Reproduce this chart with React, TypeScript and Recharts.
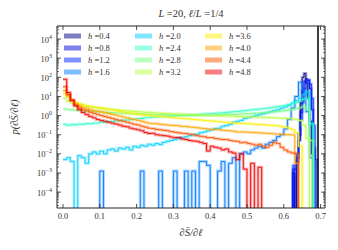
import React from 'react';
import { LineChart, Line, XAxis, YAxis, ReferenceLine } from 'recharts';

const W = 338;
const H = 250;
const FONT = '"Liberation Serif", "DejaVu Serif", serif';
const AXIS = '#222';
const TXT = '#333';

const H_LABELS = ['0.4', '0.8', '1.2', '1.6', '2.0', '2.4', '2.8', '3.2', '3.6', '4.0', '4.4', '4.8'];
const COLORS = ['#000080', '#0000de', '#0028ff', '#007aff', '#00cfff', '#30ffc7', '#74ff83', '#b8ff40', '#fbf000', '#ffa400', '#ff5400', '#f20000'];

const X_TICKS = [0, 0.1, 0.2, 0.3, 0.4, 0.5, 0.6, 0.7];
const Y_MAJOR = [1e-4, 1e-3, 1e-2, 1e-1, 1, 1e1, 1e2, 1e3, 1e4];
const Y_EXP = ['\u22124', '\u22123', '\u22122', '\u22121', '0', '1', '2', '3', '4'];
const X_DOMAIN = [-0.0163, 0.712];
const Y_DOMAIN = [1.48e-5, 4.8e4];
const LN2 = 0.693;

// thermal side, bins of 0.005 starting at 0.62
const P_04 = [0, 0.001, 0, 0.0063, 0.1, 5, 100, 160, 50, 8, 0.5, 0.01, 0];
const P_08 = [0, 0.0016, 0, 0.004, 0.05, 1.5, 20, 63, 80, 70, 25, 2, 0.02, 0];
const P_12 = [0, 0.0025, 0.0016, 0.01, 0.1, 0.6, 5, 25, 56, 71, 45, 8, 0.3, 0.005, 0];

// bins of 0.01 starting at 0.00
const P_16 = [
  0, 0, 0, 0, 0, 0, 0, 0, 0, 0,
  0.00126, 0, 0, 0, 0, 0, 0, 0, 0, 0,
  0, 0.00126, 0, 0, 0, 0, 0.00126, 0, 0, 0,
  0.00126, 0, 0, 0.00126, 0, 0.00126, 0, 0.004, 0.004, 0.0025,
  0, 0, 0.00126, 0.004, 0, 0.0032, 0.0063, 0, 0.01, 0.0126,
  0.01, 0.016, 0.02, 0.025, 0.02, 0.032, 0.04, 0.05, 0.079, 0.1,
  0.2, 0.63, 2.5, 10, 56, 20, 1.6, 0.0063, 0,
];
const P_20 = [
  0.005, 0.0063, 0.004, 0, 0.008, 0.0063, 0.0032, 0.01, 0.0126, 0.0098,
  0.014, 0.01, 0.016, 0.018, 0.014, 0.02, 0.018, 0.022, 0.016, 0.025,
  0.022, 0.028, 0.025, 0.032, 0.028, 0.035, 0.031, 0.04, 0.045, 0.05,
  0.056, 0.063, 0.071, 0.079, 0.089, 0.1, 0.105, 0.126, 0.14, 0.16,
  0.18, 0.21, 0.22, 0.28, 0.3, 0.35, 0.45, 0.5, 0.56, 0.71,
  0.79, 0.89, 1.0, 1.12, 1.26, 1.4, 1.6, 1.8, 2.0, 2.4,
  2.8, 3.5, 4.5, 6.0, 7.9, 12.6, 17.8, 0.32, 0,
];
const P_24 = [
  0.35, 0.31, 0.34, 0.33, 0.36, 0.35, 0.38, 0.37, 0.41, 0.41,
  0.45, 0.45, 0.49, 0.49, 0.53, 0.54, 0.58, 0.59, 0.64, 0.65,
  0.7, 0.71, 0.77, 0.78, 0.82, 0.84, 0.88, 0.9, 0.94, 0.95,
  1.0, 1.02, 1.05, 1.07, 1.1, 1.12, 1.15, 1.17, 1.2, 1.23,
  1.26, 1.3, 1.35, 1.4, 1.46, 1.54, 1.6, 1.65, 1.72, 1.8,
  1.9, 2.0, 2.1, 2.2, 2.3, 2.4, 2.55, 2.75, 2.95, 3.15,
  3.4, 3.7, 4.2, 4.8, 5.6, 7.1, 8.3, 0.4, 0,
];
const P_28 = [
  2.2, 2.1, 2.0, 1.9, 1.85, 1.78, 1.74, 1.66, 1.62, 1.58,
  1.52, 1.48, 1.45, 1.42, 1.38, 1.35, 1.32, 1.3, 1.26, 1.23,
  1.2, 1.18, 1.16, 1.15, 1.12, 1.1, 1.1, 1.08, 1.07, 1.05,
  1.04, 1.03, 1.02, 1.0, 1.0, 0.99, 1.0, 1.01, 1.02, 1.03,
  1.04, 1.05, 1.07, 1.09, 1.11, 1.13, 1.15, 1.18, 1.2, 1.23,
  1.26, 1.3, 1.33, 1.37, 1.42, 1.47, 1.52, 1.58, 1.65, 1.73,
  1.82, 1.95, 2.1, 2.3, 2.6, 3.2, 2.0, 0.05, 0,
];
const P_32 = [
  8, 5.6, 4.5, 4.0, 3.5, 3.2, 3.0, 2.8, 2.65, 2.5,
  2.4, 2.25, 2.15, 2.1, 2.0, 1.9, 1.82, 1.78, 1.7, 1.66,
  1.6, 1.55, 1.5, 1.48, 1.42, 1.38, 1.35, 1.32, 1.3, 1.26,
  1.23, 1.2, 1.18, 1.15, 1.12, 1.13, 1.1, 1.07, 1.05, 1.02,
  1.0, 1.01, 0.98, 0.96, 0.95, 0.93, 0.92, 0.9, 0.89, 0.87,
  0.85, 0.84, 0.83, 0.82, 0.8, 0.79, 0.78, 0.76, 0.74, 0.72,
  0.71, 0.69, 0.66, 0.63, 0.56, 0.32, 0.063, 0,
];
const P_36 = [
  14, 10, 6.3, 5.0, 4.2, 3.7, 3.3, 3.0, 2.8, 2.6,
  2.5, 2.3, 2.1, 1.95, 1.8, 1.65, 1.55, 1.45, 1.35, 1.25,
  1.18, 1.1, 1.05, 1.0, 0.96, 0.93, 0.9, 0.86, 0.83, 0.8,
  0.77, 0.74, 0.71, 0.68, 0.66, 0.63, 0.61, 0.58, 0.56, 0.54,
  0.52, 0.5, 0.48, 0.46, 0.45, 0.43, 0.41, 0.4, 0.39, 0.38,
  0.37, 0.36, 0.35, 0.34, 0.33, 0.32, 0.31, 0.3, 0.29, 0.27,
  0.25, 0.22, 0.18, 0.13, 0.025, 0,
];
const P_40 = [
  20, 11, 6.3, 4.2, 3.2, 2.6, 2.3, 2.0, 1.8, 1.7,
  1.58, 1.42, 1.28, 1.15, 1.04, 0.94, 0.84, 0.76, 0.68, 0.62,
  0.56, 0.5, 0.45, 0.4, 0.38, 0.37, 0.35, 0.34, 0.32, 0.31,
  0.3, 0.29, 0.27, 0.27, 0.25, 0.245, 0.23, 0.22, 0.21, 0.2,
  0.19, 0.185, 0.18, 0.17, 0.165, 0.16, 0.15, 0.14, 0.14, 0.138,
  0.135, 0.13, 0.128, 0.125, 0.12, 0.118, 0.115, 0.11, 0.108, 0.105,
  0.1, 0.1, 0.098, 0.0032, 0,
];
const P_44 = [
  32, 12.6, 6.3, 3.5, 2.5, 2.0, 1.8, 1.5, 1.3, 1.15,
  1.0, 0.89, 0.8, 0.7, 0.63, 0.56, 0.5, 0.45, 0.4, 0.35,
  0.32, 0.28, 0.25, 0.22, 0.21, 0.19, 0.18, 0.17, 0.16, 0.145,
  0.135, 0.126, 0.118, 0.115, 0.105, 0.1, 0.089, 0.083, 0.079, 0.07,
  0.071, 0.063, 0.06, 0.056, 0.057, 0.05, 0.047, 0.045, 0.038, 0.041,
  0.035, 0.032, 0.028, 0.032, 0.025, 0.022, 0.028, 0.04, 0.035, 0.022,
  0.016, 0.0126, 0.011, 0.01, 0,
];
const P_48 = [
  79, 16, 6.3, 3.2, 2.0, 1.45, 1.12, 0.89, 0.76, 0.63,
  0.56, 0.5, 0.45, 0.4, 0.36, 0.32, 0.28, 0.26, 0.22, 0.2,
  0.18, 0.16, 0.13, 0.115, 0.12, 0.1, 0.095, 0.089, 0.085, 0.075,
  0.071, 0.072, 0.06, 0.056, 0.05, 0.047, 0.045, 0.04, 0.035, 0.014,
  0.025, 0.022, 0.02, 0.016, 0.018, 0.0126, 0.011, 0.005, 0.01, 0.0016,
  0, 0.0032, 0, 0.002, 0,
];

const HISTS = [
  { start: 0.62, bin: 0.005, vals: P_04 },
  { start: 0.62, bin: 0.005, vals: P_08 },
  { start: 0.62, bin: 0.005, vals: P_12 },
  { start: 0, bin: 0.01, vals: P_16 },
  { start: 0, bin: 0.01, vals: P_20 },
  { start: 0, bin: 0.01, vals: P_24 },
  { start: 0, bin: 0.01, vals: P_28 },
  { start: 0, bin: 0.01, vals: P_32 },
  { start: 0, bin: 0.01, vals: P_36 },
  { start: 0, bin: 0.01, vals: P_40 },
  { start: 0, bin: 0.01, vals: P_44 },
  { start: 0, bin: 0.01, vals: P_48 },
];

// empty bins are pushed below the axis floor so the step drops out of view
const FLOOR = 1e-7;
const toPoints = (start: number, bin: number, vals: number[]) =>
  vals.map((p, i) => ({ x: Math.round((start + i * bin) * 1000) / 1000, p: p > 0 ? p : FLOOR }));

const Y_MINOR: number[] = [];
[1e-5, ...Y_MAJOR].forEach((d) => {
  for (let k = 2; k < 10; k++) {
    const v = d * k;
    if (v > Y_DOMAIN[0] && v < Y_DOMAIN[1]) Y_MINOR.push(v);
  }
});
const Y_TICKS = [...Y_MAJOR, ...Y_MINOR].sort((a, b) => a - b);

const BottomTick = ({ x, y, payload }: any) => (
  <g>
    <line x1={x} x2={x} y1={y} y2={y - 4} stroke={AXIS} strokeWidth={0.8} />
    <text x={x} y={y + 11} textAnchor="middle" fontSize={8.5} fontFamily={FONT} fill={TXT}>
      {payload.value.toFixed(1)}
    </text>
  </g>
);

const TopTick = ({ x, y }: any) => (
  <line x1={x} x2={x} y1={y} y2={y + 4} stroke={AXIS} strokeWidth={0.8} />
);

const LeftTick = ({ x, y, payload }: any) => {
  const i = Y_MAJOR.indexOf(payload.value);
  if (i < 0) return <line x1={x} x2={x + 2} y1={y} y2={y} stroke={AXIS} strokeWidth={0.6} />;
  return (
    <g>
      <line x1={x} x2={x + 4} y1={y} y2={y} stroke={AXIS} strokeWidth={0.8} />
      <text x={x - 5} y={y + 3.5} textAnchor="end" fontSize={8.5} fontFamily={FONT} fill={TXT}>
        10<tspan dy={-4} fontSize={6}>{Y_EXP[i]}</tspan>
      </text>
    </g>
  );
};

const RightTick = ({ x, y, payload }: any) => {
  const major = Y_MAJOR.indexOf(payload.value) >= 0;
  return <line x1={x} x2={x - (major ? 4 : 2)} y1={y} y2={y} stroke={AXIS} strokeWidth={major ? 0.8 : 0.6} />;
};

const LEG_X = [64, 135, 205];
const LEG_Y = [36, 48, 60, 72];

export default function App() {
  const lines = HISTS.flatMap((h, i) => {
    const pts = toPoints(h.start, h.bin, h.vals);
    return [
      <Line key={`band${i}`} xAxisId="b" yAxisId="l" data={pts} dataKey="p" type="stepAfter"
        stroke={COLORS[i]} strokeOpacity={0.3} strokeWidth={3} dot={false} activeDot={false}
        isAnimationActive={false} legendType="none" />,
      <Line key={`line${i}`} xAxisId="b" yAxisId="l" data={pts} dataKey="p" type="stepAfter"
        stroke={COLORS[i]} strokeWidth={0.9} dot={false} activeDot={false}
        isAnimationActive={false} legendType="none" />,
    ];
  });

  return (
    <div style={{ position: 'absolute', left: 0, top: 0, width: W, height: H, background: '#fff' }}>
      <LineChart width={W} height={H} margin={{ top: 25, right: 12, bottom: 0, left: 0 }}>
        <XAxis xAxisId="b" type="number" dataKey="x" domain={X_DOMAIN} allowDataOverflow ticks={X_TICKS}
          interval={0} tick={(p: any) => <BottomTick {...p} />} tickLine={false} tickSize={0} tickMargin={0}
          height={42} axisLine={{ stroke: AXIS }} />
        <XAxis xAxisId="t" orientation="top" type="number" dataKey="x" domain={X_DOMAIN} allowDataOverflow
          ticks={X_TICKS} interval={0} tick={(p: any) => <TopTick {...p} />} tickLine={false} tickSize={0}
          tickMargin={0} height={1} axisLine={{ stroke: AXIS }} />
        <YAxis yAxisId="l" type="number" scale="log" domain={Y_DOMAIN} allowDataOverflow ticks={Y_TICKS}
          interval={0} tick={(p: any) => <LeftTick {...p} />} tickLine={false} tickSize={0} tickMargin={0}
          width={57} axisLine={{ stroke: AXIS }} />
        <YAxis yAxisId="r" orientation="right" type="number" scale="log" domain={Y_DOMAIN} allowDataOverflow
          ticks={Y_TICKS} interval={0} tick={(p: any) => <RightTick {...p} />} tickLine={false} tickSize={0}
          tickMargin={0} width={1} axisLine={{ stroke: AXIS }} />
        {lines}
        <ReferenceLine xAxisId="b" yAxisId="l" x={LN2} stroke="#000" strokeWidth={1.5} />
      </LineChart>
      <svg width={W} height={H} style={{ position: 'absolute', left: 0, top: 0, pointerEvents: 'none' }}
        fontFamily={FONT} fill={TXT}>
        <text x={191} y={17} textAnchor="middle" fontSize={10.5}>
          <tspan fontStyle="italic">L</tspan> =20, <tspan fontStyle="italic">ℓ</tspan>/<tspan fontStyle="italic">L</tspan> =1/4
        </text>
        <text x={191} y={236} textAnchor="middle" fontSize={10.5} fontStyle="italic">∂S̄/∂ℓ</text>
        <text transform="translate(18,117) rotate(-90)" textAnchor="middle" fontSize={10.5} fontStyle="italic">
          p(∂S̄/∂ℓ)
        </text>
        {H_LABELS.map((lab, i) => {
          const lx = LEG_X[Math.floor(i / 4)];
          const ly = LEG_Y[i % 4];
          return (
            <g key={lab}>
              <rect x={lx} y={ly - 2.5} width={17} height={5} fill={COLORS[i]} fillOpacity={0.5} />
              <text x={lx + 24} y={ly + 3} fontSize={8.5}>
                <tspan fontStyle="italic">h</tspan> ={lab}
              </text>
            </g>
          );
        })}
      </svg>
    </div>
  );
}
